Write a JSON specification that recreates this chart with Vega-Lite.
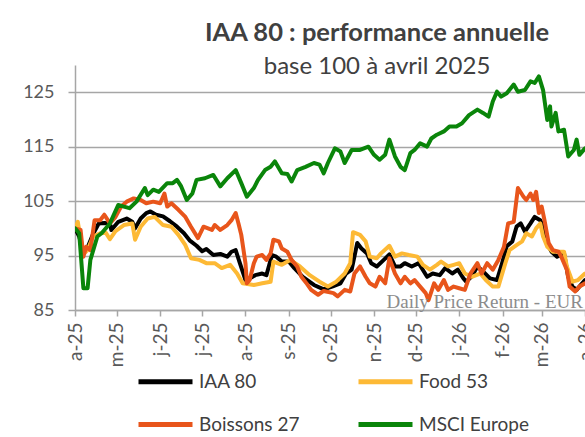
{
  "$schema": "https://vega.github.io/schema/vega-lite/v6.json",
  "width": 510,
  "height": 245,
  "autosize": {"type": "none"},
  "padding": {"left": 75, "top": 65, "right": 0, "bottom": 127},
  "background": "#FFFFFF",
  "config": {
    "view": {"stroke": null},
    "font": "Lato"
  },
  "title": {
    "text": "IAA 80 : performance annuelle",
    "subtitle": "base 100 à avril 2025",
    "anchor": "middle",
    "dx": 47,
    "offset": -14,
    "font": "Lato",
    "fontSize": 25.5,
    "fontWeight": "bold",
    "color": "#404040",
    "subtitleFont": "Lato",
    "subtitleFontSize": 24,
    "subtitleColor": "#404040",
    "subtitlePadding": 9
  },
  "data": {
    "format": {"parse": {"d": "date:'%Y-%m-%d'"}},
    "values": [
      {"s":"IAA 80","d":"2025-04-01","v":100.0},
      {"s":"IAA 80","d":"2025-04-04","v":98.5},
      {"s":"IAA 80","d":"2025-04-07","v":95.5},
      {"s":"IAA 80","d":"2025-04-10","v":96.5},
      {"s":"IAA 80","d":"2025-04-14","v":99.0},
      {"s":"IAA 80","d":"2025-04-18","v":100.9},
      {"s":"IAA 80","d":"2025-04-22","v":101.0},
      {"s":"IAA 80","d":"2025-04-26","v":100.9},
      {"s":"IAA 80","d":"2025-04-27","v":99.7},
      {"s":"IAA 80","d":"2025-05-02","v":101.2},
      {"s":"IAA 80","d":"2025-05-08","v":101.8},
      {"s":"IAA 80","d":"2025-05-12","v":101.2},
      {"s":"IAA 80","d":"2025-05-14","v":100.0},
      {"s":"IAA 80","d":"2025-05-18","v":101.8},
      {"s":"IAA 80","d":"2025-05-22","v":102.8},
      {"s":"IAA 80","d":"2025-05-25","v":103.1},
      {"s":"IAA 80","d":"2025-05-29","v":102.5},
      {"s":"IAA 80","d":"2025-06-03","v":102.2},
      {"s":"IAA 80","d":"2025-06-08","v":101.3},
      {"s":"IAA 80","d":"2025-06-13","v":100.3},
      {"s":"IAA 80","d":"2025-06-18","v":99.1},
      {"s":"IAA 80","d":"2025-06-22","v":97.8},
      {"s":"IAA 80","d":"2025-06-27","v":96.8},
      {"s":"IAA 80","d":"2025-07-01","v":95.8},
      {"s":"IAA 80","d":"2025-07-04","v":96.2},
      {"s":"IAA 80","d":"2025-07-09","v":95.1},
      {"s":"IAA 80","d":"2025-07-14","v":95.3},
      {"s":"IAA 80","d":"2025-07-19","v":94.8},
      {"s":"IAA 80","d":"2025-07-22","v":95.7},
      {"s":"IAA 80","d":"2025-07-25","v":96.0},
      {"s":"IAA 80","d":"2025-07-28","v":93.6},
      {"s":"IAA 80","d":"2025-08-01","v":90.5},
      {"s":"IAA 80","d":"2025-08-04","v":90.8},
      {"s":"IAA 80","d":"2025-08-08","v":91.4},
      {"s":"IAA 80","d":"2025-08-13","v":91.7},
      {"s":"IAA 80","d":"2025-08-16","v":91.4},
      {"s":"IAA 80","d":"2025-08-20","v":95.1},
      {"s":"IAA 80","d":"2025-08-23","v":94.8},
      {"s":"IAA 80","d":"2025-08-27","v":93.9},
      {"s":"IAA 80","d":"2025-09-01","v":93.9},
      {"s":"IAA 80","d":"2025-09-05","v":92.7},
      {"s":"IAA 80","d":"2025-09-11","v":91.1},
      {"s":"IAA 80","d":"2025-09-19","v":89.6},
      {"s":"IAA 80","d":"2025-09-26","v":88.8},
      {"s":"IAA 80","d":"2025-10-02","v":89.3},
      {"s":"IAA 80","d":"2025-10-08","v":89.9},
      {"s":"IAA 80","d":"2025-10-12","v":91.7},
      {"s":"IAA 80","d":"2025-10-16","v":92.4},
      {"s":"IAA 80","d":"2025-10-20","v":97.3},
      {"s":"IAA 80","d":"2025-10-23","v":96.3},
      {"s":"IAA 80","d":"2025-10-27","v":95.4},
      {"s":"IAA 80","d":"2025-10-30","v":93.6},
      {"s":"IAA 80","d":"2025-11-03","v":93.0},
      {"s":"IAA 80","d":"2025-11-08","v":94.2},
      {"s":"IAA 80","d":"2025-11-12","v":95.2},
      {"s":"IAA 80","d":"2025-11-16","v":93.0},
      {"s":"IAA 80","d":"2025-11-20","v":93.0},
      {"s":"IAA 80","d":"2025-11-23","v":93.6},
      {"s":"IAA 80","d":"2025-11-28","v":93.0},
      {"s":"IAA 80","d":"2025-12-03","v":93.6},
      {"s":"IAA 80","d":"2025-12-09","v":91.1},
      {"s":"IAA 80","d":"2025-12-13","v":91.7},
      {"s":"IAA 80","d":"2025-12-18","v":91.4},
      {"s":"IAA 80","d":"2025-12-22","v":92.7},
      {"s":"IAA 80","d":"2025-12-27","v":91.7},
      {"s":"IAA 80","d":"2025-12-31","v":92.4},
      {"s":"IAA 80","d":"2026-01-04","v":90.8},
      {"s":"IAA 80","d":"2026-01-06","v":90.2},
      {"s":"IAA 80","d":"2026-01-10","v":91.2},
      {"s":"IAA 80","d":"2026-01-14","v":93.0},
      {"s":"IAA 80","d":"2026-01-18","v":92.1},
      {"s":"IAA 80","d":"2026-01-23","v":90.8},
      {"s":"IAA 80","d":"2026-01-28","v":90.5},
      {"s":"IAA 80","d":"2026-01-31","v":93.0},
      {"s":"IAA 80","d":"2026-02-04","v":96.7},
      {"s":"IAA 80","d":"2026-02-08","v":97.6},
      {"s":"IAA 80","d":"2026-02-11","v":100.3},
      {"s":"IAA 80","d":"2026-02-14","v":100.9},
      {"s":"IAA 80","d":"2026-02-17","v":99.4},
      {"s":"IAA 80","d":"2026-02-21","v":100.9},
      {"s":"IAA 80","d":"2026-02-24","v":102.1},
      {"s":"IAA 80","d":"2026-02-28","v":101.5},
      {"s":"IAA 80","d":"2026-03-02","v":100.3},
      {"s":"IAA 80","d":"2026-03-05","v":97.3},
      {"s":"IAA 80","d":"2026-03-08","v":95.7},
      {"s":"IAA 80","d":"2026-03-12","v":94.8},
      {"s":"IAA 80","d":"2026-03-17","v":95.4},
      {"s":"IAA 80","d":"2026-03-20","v":91.1},
      {"s":"IAA 80","d":"2026-03-23","v":89.3},
      {"s":"IAA 80","d":"2026-03-26","v":88.7},
      {"s":"IAA 80","d":"2026-03-30","v":89.9},
      {"s":"IAA 80","d":"2026-04-01","v":90.5},

      {"s":"Food 53","d":"2025-04-01","v":100.0},
      {"s":"Food 53","d":"2025-04-03","v":101.2},
      {"s":"Food 53","d":"2025-04-06","v":96.6},
      {"s":"Food 53","d":"2025-04-08","v":95.5},
      {"s":"Food 53","d":"2025-04-10","v":96.0},
      {"s":"Food 53","d":"2025-04-14","v":98.5},
      {"s":"Food 53","d":"2025-04-19","v":99.1},
      {"s":"Food 53","d":"2025-04-23","v":99.2},
      {"s":"Food 53","d":"2025-04-26","v":98.0},
      {"s":"Food 53","d":"2025-04-30","v":99.5},
      {"s":"Food 53","d":"2025-05-06","v":100.6},
      {"s":"Food 53","d":"2025-05-12","v":100.9},
      {"s":"Food 53","d":"2025-05-14","v":97.9},
      {"s":"Food 53","d":"2025-05-18","v":100.3},
      {"s":"Food 53","d":"2025-05-23","v":101.8},
      {"s":"Food 53","d":"2025-05-28","v":102.1},
      {"s":"Food 53","d":"2025-06-03","v":100.6},
      {"s":"Food 53","d":"2025-06-09","v":100.3},
      {"s":"Food 53","d":"2025-06-14","v":98.8},
      {"s":"Food 53","d":"2025-06-19","v":96.9},
      {"s":"Food 53","d":"2025-06-23","v":94.5},
      {"s":"Food 53","d":"2025-06-29","v":94.2},
      {"s":"Food 53","d":"2025-07-04","v":93.6},
      {"s":"Food 53","d":"2025-07-10","v":93.6},
      {"s":"Food 53","d":"2025-07-15","v":92.7},
      {"s":"Food 53","d":"2025-07-21","v":93.3},
      {"s":"Food 53","d":"2025-07-26","v":91.7},
      {"s":"Food 53","d":"2025-07-30","v":89.9},
      {"s":"Food 53","d":"2025-08-07","v":89.6},
      {"s":"Food 53","d":"2025-08-13","v":89.9},
      {"s":"Food 53","d":"2025-08-19","v":90.2},
      {"s":"Food 53","d":"2025-08-21","v":93.9},
      {"s":"Food 53","d":"2025-08-27","v":93.3},
      {"s":"Food 53","d":"2025-09-02","v":94.2},
      {"s":"Food 53","d":"2025-09-09","v":93.0},
      {"s":"Food 53","d":"2025-09-16","v":91.4},
      {"s":"Food 53","d":"2025-09-23","v":90.2},
      {"s":"Food 53","d":"2025-09-29","v":89.3},
      {"s":"Food 53","d":"2025-10-05","v":90.2},
      {"s":"Food 53","d":"2025-10-11","v":91.7},
      {"s":"Food 53","d":"2025-10-15","v":93.6},
      {"s":"Food 53","d":"2025-10-17","v":99.3},
      {"s":"Food 53","d":"2025-10-22","v":98.8},
      {"s":"Food 53","d":"2025-10-26","v":97.6},
      {"s":"Food 53","d":"2025-10-29","v":94.8},
      {"s":"Food 53","d":"2025-11-03","v":94.5},
      {"s":"Food 53","d":"2025-11-06","v":95.4},
      {"s":"Food 53","d":"2025-11-12","v":96.8},
      {"s":"Food 53","d":"2025-11-16","v":94.8},
      {"s":"Food 53","d":"2025-11-21","v":95.4},
      {"s":"Food 53","d":"2025-11-26","v":95.1},
      {"s":"Food 53","d":"2025-12-02","v":94.8},
      {"s":"Food 53","d":"2025-12-06","v":93.3},
      {"s":"Food 53","d":"2025-12-11","v":92.4},
      {"s":"Food 53","d":"2025-12-16","v":93.3},
      {"s":"Food 53","d":"2025-12-19","v":93.9},
      {"s":"Food 53","d":"2025-12-24","v":93.0},
      {"s":"Food 53","d":"2025-12-28","v":93.3},
      {"s":"Food 53","d":"2026-01-01","v":93.6},
      {"s":"Food 53","d":"2026-01-05","v":91.7},
      {"s":"Food 53","d":"2026-01-10","v":91.1},
      {"s":"Food 53","d":"2026-01-16","v":91.7},
      {"s":"Food 53","d":"2026-01-20","v":90.5},
      {"s":"Food 53","d":"2026-01-25","v":89.3},
      {"s":"Food 53","d":"2026-01-29","v":89.3},
      {"s":"Food 53","d":"2026-02-03","v":93.6},
      {"s":"Food 53","d":"2026-02-06","v":96.0},
      {"s":"Food 53","d":"2026-02-11","v":96.9},
      {"s":"Food 53","d":"2026-02-15","v":97.6},
      {"s":"Food 53","d":"2026-02-18","v":99.1},
      {"s":"Food 53","d":"2026-02-22","v":98.5},
      {"s":"Food 53","d":"2026-02-25","v":100.0},
      {"s":"Food 53","d":"2026-02-28","v":100.9},
      {"s":"Food 53","d":"2026-03-02","v":98.5},
      {"s":"Food 53","d":"2026-03-05","v":96.6},
      {"s":"Food 53","d":"2026-03-09","v":95.7},
      {"s":"Food 53","d":"2026-03-17","v":95.7},
      {"s":"Food 53","d":"2026-03-19","v":93.0},
      {"s":"Food 53","d":"2026-03-23","v":90.2},
      {"s":"Food 53","d":"2026-03-27","v":90.5},
      {"s":"Food 53","d":"2026-04-01","v":91.7},

      {"s":"Boissons 27","d":"2025-04-01","v":100.0},
      {"s":"Boissons 27","d":"2025-04-05","v":99.7},
      {"s":"Boissons 27","d":"2025-04-07","v":94.8},
      {"s":"Boissons 27","d":"2025-04-09","v":96.6},
      {"s":"Boissons 27","d":"2025-04-12","v":96.0},
      {"s":"Boissons 27","d":"2025-04-15","v":101.5},
      {"s":"Boissons 27","d":"2025-04-19","v":101.5},
      {"s":"Boissons 27","d":"2025-04-22","v":102.5},
      {"s":"Boissons 27","d":"2025-04-26","v":100.9},
      {"s":"Boissons 27","d":"2025-04-30","v":102.1},
      {"s":"Boissons 27","d":"2025-05-04","v":104.0},
      {"s":"Boissons 27","d":"2025-05-08","v":104.9},
      {"s":"Boissons 27","d":"2025-05-13","v":105.5},
      {"s":"Boissons 27","d":"2025-05-18","v":105.2},
      {"s":"Boissons 27","d":"2025-05-22","v":104.6},
      {"s":"Boissons 27","d":"2025-05-27","v":104.9},
      {"s":"Boissons 27","d":"2025-06-01","v":104.6},
      {"s":"Boissons 27","d":"2025-06-04","v":106.4},
      {"s":"Boissons 27","d":"2025-06-06","v":104.0},
      {"s":"Boissons 27","d":"2025-06-09","v":104.6},
      {"s":"Boissons 27","d":"2025-06-14","v":103.4},
      {"s":"Boissons 27","d":"2025-06-19","v":102.1},
      {"s":"Boissons 27","d":"2025-06-23","v":100.3},
      {"s":"Boissons 27","d":"2025-06-28","v":98.2},
      {"s":"Boissons 27","d":"2025-07-02","v":100.3},
      {"s":"Boissons 27","d":"2025-07-08","v":99.7},
      {"s":"Boissons 27","d":"2025-07-10","v":100.6},
      {"s":"Boissons 27","d":"2025-07-14","v":99.7},
      {"s":"Boissons 27","d":"2025-07-19","v":100.6},
      {"s":"Boissons 27","d":"2025-07-22","v":101.5},
      {"s":"Boissons 27","d":"2025-07-25","v":102.8},
      {"s":"Boissons 27","d":"2025-07-27","v":100.9},
      {"s":"Boissons 27","d":"2025-07-29","v":98.8},
      {"s":"Boissons 27","d":"2025-08-01","v":93.6},
      {"s":"Boissons 27","d":"2025-08-02","v":89.9},
      {"s":"Boissons 27","d":"2025-08-04","v":90.5},
      {"s":"Boissons 27","d":"2025-08-07","v":93.6},
      {"s":"Boissons 27","d":"2025-08-09","v":94.8},
      {"s":"Boissons 27","d":"2025-08-13","v":95.1},
      {"s":"Boissons 27","d":"2025-08-16","v":94.2},
      {"s":"Boissons 27","d":"2025-08-19","v":95.4},
      {"s":"Boissons 27","d":"2025-08-21","v":97.9},
      {"s":"Boissons 27","d":"2025-08-25","v":97.6},
      {"s":"Boissons 27","d":"2025-08-27","v":96.3},
      {"s":"Boissons 27","d":"2025-08-31","v":95.7},
      {"s":"Boissons 27","d":"2025-09-03","v":94.2},
      {"s":"Boissons 27","d":"2025-09-07","v":93.0},
      {"s":"Boissons 27","d":"2025-09-10","v":91.1},
      {"s":"Boissons 27","d":"2025-09-14","v":89.8},
      {"s":"Boissons 27","d":"2025-09-17","v":88.7},
      {"s":"Boissons 27","d":"2025-09-22","v":87.8},
      {"s":"Boissons 27","d":"2025-09-26","v":88.5},
      {"s":"Boissons 27","d":"2025-10-03","v":88.1},
      {"s":"Boissons 27","d":"2025-10-06","v":87.5},
      {"s":"Boissons 27","d":"2025-10-11","v":88.7},
      {"s":"Boissons 27","d":"2025-10-15","v":88.4},
      {"s":"Boissons 27","d":"2025-10-18","v":91.7},
      {"s":"Boissons 27","d":"2025-10-22","v":93.0},
      {"s":"Boissons 27","d":"2025-10-26","v":91.1},
      {"s":"Boissons 27","d":"2025-10-29","v":89.9},
      {"s":"Boissons 27","d":"2025-11-02","v":89.3},
      {"s":"Boissons 27","d":"2025-11-05","v":91.1},
      {"s":"Boissons 27","d":"2025-11-09","v":89.9},
      {"s":"Boissons 27","d":"2025-11-12","v":94.5},
      {"s":"Boissons 27","d":"2025-11-16","v":91.7},
      {"s":"Boissons 27","d":"2025-11-20","v":89.9},
      {"s":"Boissons 27","d":"2025-11-23","v":91.1},
      {"s":"Boissons 27","d":"2025-11-27","v":89.9},
      {"s":"Boissons 27","d":"2025-11-30","v":90.5},
      {"s":"Boissons 27","d":"2025-12-04","v":89.3},
      {"s":"Boissons 27","d":"2025-12-08","v":88.1},
      {"s":"Boissons 27","d":"2025-12-10","v":86.8},
      {"s":"Boissons 27","d":"2025-12-14","v":89.9},
      {"s":"Boissons 27","d":"2025-12-17","v":88.7},
      {"s":"Boissons 27","d":"2025-12-21","v":90.5},
      {"s":"Boissons 27","d":"2025-12-24","v":88.7},
      {"s":"Boissons 27","d":"2025-12-28","v":89.3},
      {"s":"Boissons 27","d":"2026-01-01","v":89.0},
      {"s":"Boissons 27","d":"2026-01-05","v":88.7},
      {"s":"Boissons 27","d":"2026-01-09","v":91.7},
      {"s":"Boissons 27","d":"2026-01-14","v":93.6},
      {"s":"Boissons 27","d":"2026-01-17","v":91.7},
      {"s":"Boissons 27","d":"2026-01-21","v":93.6},
      {"s":"Boissons 27","d":"2026-01-25","v":92.4},
      {"s":"Boissons 27","d":"2026-01-29","v":94.2},
      {"s":"Boissons 27","d":"2026-02-02","v":96.6},
      {"s":"Boissons 27","d":"2026-02-05","v":100.9},
      {"s":"Boissons 27","d":"2026-02-09","v":101.2},
      {"s":"Boissons 27","d":"2026-02-12","v":107.4},
      {"s":"Boissons 27","d":"2026-02-16","v":105.8},
      {"s":"Boissons 27","d":"2026-02-18","v":105.2},
      {"s":"Boissons 27","d":"2026-02-21","v":106.4},
      {"s":"Boissons 27","d":"2026-02-23","v":105.2},
      {"s":"Boissons 27","d":"2026-02-25","v":106.7},
      {"s":"Boissons 27","d":"2026-02-27","v":102.8},
      {"s":"Boissons 27","d":"2026-03-01","v":104.0},
      {"s":"Boissons 27","d":"2026-03-03","v":101.5},
      {"s":"Boissons 27","d":"2026-03-06","v":97.3},
      {"s":"Boissons 27","d":"2026-03-09","v":96.0},
      {"s":"Boissons 27","d":"2026-03-13","v":95.7},
      {"s":"Boissons 27","d":"2026-03-15","v":94.8},
      {"s":"Boissons 27","d":"2026-03-19","v":92.4},
      {"s":"Boissons 27","d":"2026-03-21","v":89.3},
      {"s":"Boissons 27","d":"2026-03-25","v":88.4},
      {"s":"Boissons 27","d":"2026-03-28","v":89.3},
      {"s":"Boissons 27","d":"2026-04-01","v":89.9},

      {"s":"MSCI Europe","d":"2025-04-01","v":100.0},
      {"s":"MSCI Europe","d":"2025-04-04","v":99.1},
      {"s":"MSCI Europe","d":"2025-04-07","v":89.0},
      {"s":"MSCI Europe","d":"2025-04-10","v":89.0},
      {"s":"MSCI Europe","d":"2025-04-12","v":94.2},
      {"s":"MSCI Europe","d":"2025-04-17","v":98.5},
      {"s":"MSCI Europe","d":"2025-04-20","v":99.1},
      {"s":"MSCI Europe","d":"2025-04-26","v":100.9},
      {"s":"MSCI Europe","d":"2025-05-02","v":104.3},
      {"s":"MSCI Europe","d":"2025-05-06","v":104.0},
      {"s":"MSCI Europe","d":"2025-05-10","v":103.7},
      {"s":"MSCI Europe","d":"2025-05-15","v":104.9},
      {"s":"MSCI Europe","d":"2025-05-21","v":107.4},
      {"s":"MSCI Europe","d":"2025-05-23","v":106.1},
      {"s":"MSCI Europe","d":"2025-05-27","v":107.1},
      {"s":"MSCI Europe","d":"2025-05-31","v":106.7},
      {"s":"MSCI Europe","d":"2025-06-06","v":108.3},
      {"s":"MSCI Europe","d":"2025-06-10","v":108.3},
      {"s":"MSCI Europe","d":"2025-06-13","v":108.9},
      {"s":"MSCI Europe","d":"2025-06-16","v":107.7},
      {"s":"MSCI Europe","d":"2025-06-20","v":105.2},
      {"s":"MSCI Europe","d":"2025-06-24","v":106.4},
      {"s":"MSCI Europe","d":"2025-06-27","v":108.9},
      {"s":"MSCI Europe","d":"2025-07-03","v":109.2},
      {"s":"MSCI Europe","d":"2025-07-09","v":109.8},
      {"s":"MSCI Europe","d":"2025-07-14","v":107.7},
      {"s":"MSCI Europe","d":"2025-07-19","v":109.2},
      {"s":"MSCI Europe","d":"2025-07-25","v":110.7},
      {"s":"MSCI Europe","d":"2025-07-29","v":108.3},
      {"s":"MSCI Europe","d":"2025-08-02","v":105.8},
      {"s":"MSCI Europe","d":"2025-08-07","v":107.4},
      {"s":"MSCI Europe","d":"2025-08-10","v":108.9},
      {"s":"MSCI Europe","d":"2025-08-15","v":110.7},
      {"s":"MSCI Europe","d":"2025-08-19","v":111.3},
      {"s":"MSCI Europe","d":"2025-08-22","v":112.3},
      {"s":"MSCI Europe","d":"2025-08-27","v":110.1},
      {"s":"MSCI Europe","d":"2025-08-31","v":110.0},
      {"s":"MSCI Europe","d":"2025-09-03","v":108.6},
      {"s":"MSCI Europe","d":"2025-09-07","v":110.7},
      {"s":"MSCI Europe","d":"2025-09-13","v":111.3},
      {"s":"MSCI Europe","d":"2025-09-19","v":112.0},
      {"s":"MSCI Europe","d":"2025-09-23","v":111.7},
      {"s":"MSCI Europe","d":"2025-09-26","v":110.1},
      {"s":"MSCI Europe","d":"2025-09-29","v":112.0},
      {"s":"MSCI Europe","d":"2025-10-04","v":114.7},
      {"s":"MSCI Europe","d":"2025-10-08","v":114.1},
      {"s":"MSCI Europe","d":"2025-10-11","v":112.0},
      {"s":"MSCI Europe","d":"2025-10-16","v":114.4},
      {"s":"MSCI Europe","d":"2025-10-22","v":114.4},
      {"s":"MSCI Europe","d":"2025-10-28","v":115.0},
      {"s":"MSCI Europe","d":"2025-11-01","v":113.5},
      {"s":"MSCI Europe","d":"2025-11-05","v":112.6},
      {"s":"MSCI Europe","d":"2025-11-09","v":113.5},
      {"s":"MSCI Europe","d":"2025-11-12","v":116.3},
      {"s":"MSCI Europe","d":"2025-11-16","v":113.2},
      {"s":"MSCI Europe","d":"2025-11-20","v":111.3},
      {"s":"MSCI Europe","d":"2025-11-23","v":110.7},
      {"s":"MSCI Europe","d":"2025-11-27","v":113.8},
      {"s":"MSCI Europe","d":"2025-11-30","v":114.4},
      {"s":"MSCI Europe","d":"2025-12-04","v":115.6},
      {"s":"MSCI Europe","d":"2025-12-09","v":115.0},
      {"s":"MSCI Europe","d":"2025-12-12","v":116.5},
      {"s":"MSCI Europe","d":"2025-12-16","v":117.2},
      {"s":"MSCI Europe","d":"2025-12-21","v":117.8},
      {"s":"MSCI Europe","d":"2025-12-25","v":118.7},
      {"s":"MSCI Europe","d":"2025-12-30","v":118.7},
      {"s":"MSCI Europe","d":"2026-01-03","v":119.3},
      {"s":"MSCI Europe","d":"2026-01-08","v":120.8},
      {"s":"MSCI Europe","d":"2026-01-14","v":121.8},
      {"s":"MSCI Europe","d":"2026-01-18","v":121.2},
      {"s":"MSCI Europe","d":"2026-01-22","v":120.5},
      {"s":"MSCI Europe","d":"2026-01-25","v":123.3},
      {"s":"MSCI Europe","d":"2026-01-28","v":125.1},
      {"s":"MSCI Europe","d":"2026-01-31","v":124.2},
      {"s":"MSCI Europe","d":"2026-02-04","v":124.8},
      {"s":"MSCI Europe","d":"2026-02-09","v":126.4},
      {"s":"MSCI Europe","d":"2026-02-12","v":125.1},
      {"s":"MSCI Europe","d":"2026-02-17","v":125.4},
      {"s":"MSCI Europe","d":"2026-02-21","v":127.0},
      {"s":"MSCI Europe","d":"2026-02-24","v":126.7},
      {"s":"MSCI Europe","d":"2026-02-27","v":127.9},
      {"s":"MSCI Europe","d":"2026-03-02","v":125.4},
      {"s":"MSCI Europe","d":"2026-03-05","v":119.9},
      {"s":"MSCI Europe","d":"2026-03-07","v":122.4},
      {"s":"MSCI Europe","d":"2026-03-08","v":118.7},
      {"s":"MSCI Europe","d":"2026-03-11","v":121.2},
      {"s":"MSCI Europe","d":"2026-03-13","v":117.8},
      {"s":"MSCI Europe","d":"2026-03-17","v":118.1},
      {"s":"MSCI Europe","d":"2026-03-20","v":113.2},
      {"s":"MSCI Europe","d":"2026-03-24","v":114.4},
      {"s":"MSCI Europe","d":"2026-03-26","v":116.3},
      {"s":"MSCI Europe","d":"2026-03-28","v":113.5},
      {"s":"MSCI Europe","d":"2026-04-01","v":114.7}
    ]
  },
  "layer": [
    {
      "mark": {"type": "line", "strokeWidth": 4, "strokeJoin": "round", "strokeCap": "round", "clip": true},
      "encoding": {
        "x": {
          "field": "d",
          "type": "temporal",
          "scale": {"domain": [{"year": 2025, "month": 4, "date": 1}, {"year": 2026, "month": 4, "date": 1}]},
          "axis": {
            "title": null,
            "grid": false,
            "tickCount": {"interval": "month", "step": 1},
            "labelExpr": "lower(slice(timeFormat(datum.value, '%b'), 0, 1)) + '-' + timeFormat(datum.value, '%y')",
            "labelAngle": 270,
            "labelAlign": "right",
            "labelBaseline": "middle",
            "labelFont": "Lato",
            "labelFontSize": 19,
            "labelColor": "#595959",
            "labelPadding": 6,
            "labelOverlap": false,
            "labelFlush": false,
            "domainColor": "#A6A6A6",
            "domainWidth": 1.5,
            "tickColor": "#A6A6A6",
            "tickWidth": 1.5,
            "tickSize": 6
          }
        },
        "y": {
          "field": "v",
          "type": "quantitative",
          "scale": {"domain": [85, 130], "nice": false, "zero": false},
          "axis": {
            "title": null,
            "values": [85, 95, 105, 115, 125],
            "grid": true,
            "gridColor": "#A6A6A6",
            "gridWidth": 1.5,
            "domainColor": "#A6A6A6",
            "domainWidth": 1.5,
            "tickColor": "#A6A6A6",
            "tickWidth": 1.5,
            "tickSize": 7,
            "labelFont": "Lato",
            "labelFontSize": 18,
            "labelColor": "#595959",
            "labelPadding": 14
          }
        },
        "color": {
          "field": "s",
          "type": "nominal",
          "sort": null,
          "scale": {
            "domain": ["IAA 80", "Food 53", "Boissons 27", "MSCI Europe"],
            "range": ["#000000", "#FDB935", "#E8551B", "#0A850A"]
          },
          "legend": {
            "title": null,
            "orient": "none",
            "legendX": 61,
            "legendY": 287,
            "direction": "horizontal",
            "columns": 2,
            "padding": 0,
            "columnPadding": 48,
            "rowPadding": 3,
            "symbolType": "stroke",
            "symbolSize": 2916,
            "symbolStrokeWidth": 5,
            "labelFont": "Lato",
            "labelFontSize": 19,
            "labelColor": "#404040",
            "labelOffset": 4,
            "gridAlign": "each"
          }
        }
      }
    },
    {
      "data": {"values": [{"note": "Daily Price Return - EUR"}]},
      "mark": {"type": "text", "align": "left", "baseline": "alphabetic", "font": "Liberation Serif", "fontSize": 19, "color": "#8C8C8C"},
      "encoding": {
        "x": {"datum": {"year": 2025, "month": 11, "date": 10}, "type": "temporal"},
        "y": {"datum": 85.4, "type": "quantitative"},
        "text": {"field": "note"}
      }
    }
  ]
}
